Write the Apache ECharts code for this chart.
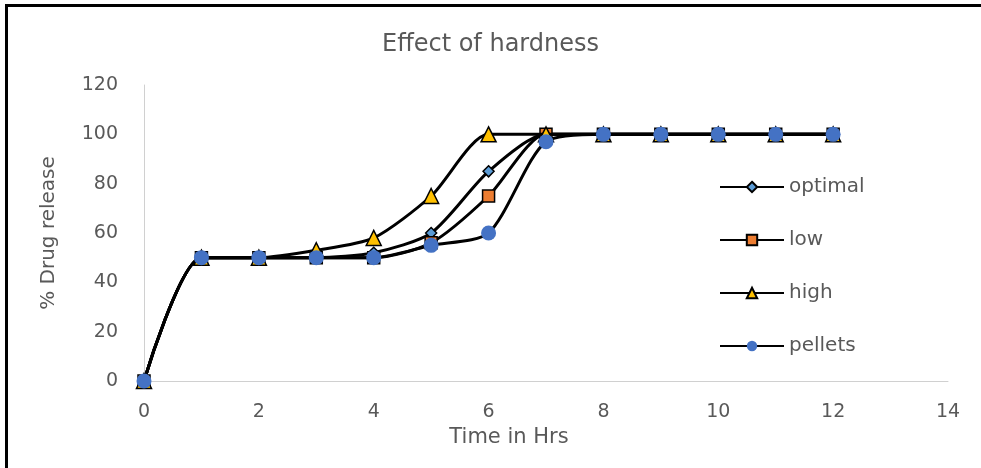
<!DOCTYPE html>
<html><head><meta charset="utf-8">
<script src="https://cdn.jsdelivr.net/npm/echarts@6/dist/echarts.min.js"></script>
<style>html,body{margin:0;padding:0;background:#fff}#c{width:981px;height:468px}</style>
</head><body><div id="c"></div>
<script>
const hours = [0,1,2,3,4,5,6,7,8,9,10,11,12];
const optimal = [0,50,50,50,52,60,85,100,100,100,100,100,100];
const low = [0,50,50,50,50,56,75,100,100,100,100,100,100];
const high = [0,50,50,53,58,75,100,100,100,100,100,100,100];
const pellets = [0,50,50,50,50,55,60,97,100,100,100,100,100];
const xTicks = [0,2,4,6,8,10,12,14];
const yTicks = [0,20,40,60,80,100,120];

const FONT = '"DejaVu Sans", sans-serif';
const GREY = '#595959';
function pts(v){ return hours.map((h,i)=>[h,v[i]]); }
function mk(name, data, symbol, size, color, border, z){
  return {name, type:'line', data:pts(data), smooth:0.25, symbol, symbolSize:size, z,
    lineStyle:{color:'#000', width:3},
    itemStyle:{color, borderColor: border?'#000':color, borderWidth: border?1.5:0},
    emphasis:{disabled:true}};
}
const chart = echarts.init(document.getElementById('c'));
chart.setOption({
  animation:false,
  backgroundColor:'#fff',
  title:{text:'Effect of hardness', left:'center', top:28, padding:[5,0,5,0],
    textStyle:{fontFamily:FONT, fontSize:24, fontWeight:'normal', color:GREY}},
  grid:{left:144, right:33, top:85, bottom:87},
  legend:{orient:'vertical', left:714, top:172, itemGap:33, itemWidth:64, itemHeight:13,
    textStyle:{fontFamily:FONT, fontSize:20, color:GREY},
    data:['optimal','low','high','pellets']},
  xAxis:{type:'value', min:0, max:14, interval:2,
    name:'Time in Hrs', nameLocation:'middle', nameGap:40,
    nameTextStyle:{fontFamily:FONT, fontSize:21, color:GREY, padding:[0,74,0,0]},
    axisLine:{show:true, lineStyle:{color:'#d0d0d0'}}, axisTick:{show:false},
    axisLabel:{fontFamily:FONT, fontSize:19, color:GREY, margin:22,
      formatter:v=>xTicks.includes(v)?String(v):''},
    splitLine:{show:false}},
  yAxis:{type:'value', min:0, max:120, interval:20,
    name:'% Drug release', nameLocation:'middle', nameGap:85,
    nameTextStyle:{fontFamily:FONT, fontSize:20, color:GREY},
    axisLine:{show:true, lineStyle:{color:'#d0d0d0'}}, axisTick:{show:false},
    axisLabel:{fontFamily:FONT, fontSize:19, color:GREY, margin:26,
      formatter:v=>yTicks.includes(v)?String(v):''},
    splitLine:{show:false}},
  graphic:[
    {type:'rect', shape:{x:5, y:4, width:3, height:464}, style:{fill:'#000'}},
    {type:'rect', shape:{x:5, y:4, width:976, height:3}, style:{fill:'#000'}}
  ],
  series:[
    mk('optimal', optimal, 'diamond', 11, '#5B9BD5', true, 2),
    mk('low', low, 'rect', 12, '#ED7D31', true, 3),
    mk('high', high, 'triangle', 15, '#FFC000', true, 4),
    mk('pellets', pellets, 'circle', 15, '#4472C4', false, 5)
  ]
});
</script></body></html>
